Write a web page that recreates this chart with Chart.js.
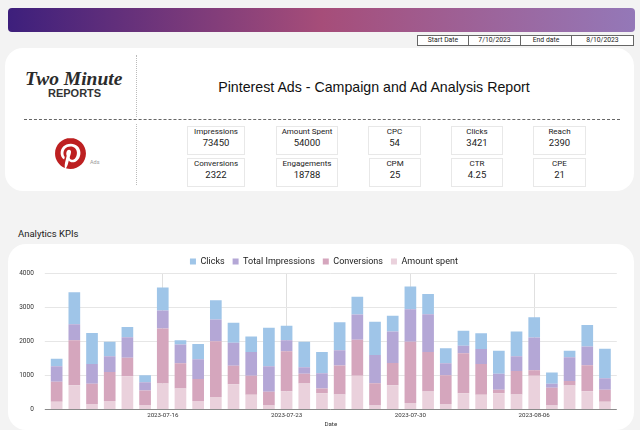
<!DOCTYPE html>
<html>
<head>
<meta charset="utf-8">
<script src="https://cdn.jsdelivr.net/npm/chart.js@4/dist/chart.umd.min.js"></script>
<style>
  html, body { margin: 0; padding: 0; }
  body { width: 640px; height: 430px; background: #f3f3f3; position: relative; overflow: hidden; font-family: Roboto, sans-serif; color: #222; }
  .abs { position: absolute; }
  #banner { left: 8px; top: 8px; width: 627px; height: 24px; border-radius: 4px; background: linear-gradient(90deg, #3d1f7c 0%, #a64d79 50%, #9478b8 100%); }
  #dates { left: 417px; top: 35px; width: 217px; height: 11px; display: flex; border: 1px solid #666; box-sizing: border-box; background: #fff; }
  #dates div { font-size: 6.8px; line-height: 9px; text-align: center; border-right: 1px solid #666; box-sizing: border-box; }
  #dates div:last-child { border-right: 0; }
  #card1 { left: 5px; top: 48px; width: 629px; height: 143px; background: #fff; border-radius: 18px; }
  #card2 { left: 8px; top: 244px; width: 626px; height: 186px; background: #fff; border-radius: 18px; }
  #vline1 { left: 136px; top: 55px; height: 62px; border-left: 1px dotted #bbb; }
  #vline2 { left: 136px; top: 124px; height: 61px; border-left: 1px dotted #bbb; }
  #hline { left: 24px; top: 119px; width: 596px; border-top: 1px dashed #666; }
  #title { left: 137px; width: 474px; top: 79px; text-align: center; font: 14.2px "Liberation Sans", sans-serif; color: #111; white-space: nowrap; }
  #logo1 { left: 25px; top: 68px; font: italic bold 19.5px "Liberation Serif", serif; color: #2b2b2b; white-space: nowrap; }
  #logo2 { left: 48px; top: 87px; font: bold 11px "Liberation Sans", sans-serif; color: #333; white-space: nowrap; }
  #ads { left: 90px; top: 159px; font-size: 5.5px; color: #999; }
  #pin { left: 55px; top: 138px; }
  .kpi { box-sizing: border-box; height: 29px; border: 1px solid #e8e8e8; text-align: center; background: #fff; }
  .kpi b { display: block; font-weight: 400; font-size: 8px; line-height: 10px; }
  .kpi i { display: block; font-style: normal; font-size: 9.5px; line-height: 11px; }
  #kpiTitle { left: 18px; top: 228px; font-size: 9.5px; }
  #chartBox { left: 0; top: 244px; width: 640px; height: 186px; }
  #chart { display: block; }
</style>
</head>
<body>
<div class="abs" id="banner"></div>
<div class="abs" id="dates">
  <div style="width:51px">Start Date</div><div style="width:52px">7/10/2023</div><div style="width:51px">End date</div><div style="width:61px">8/10/2023</div>
</div>
<div class="abs" id="card1"></div>
<div class="abs" id="card2"></div>
<div class="abs" id="vline1"></div>
<div class="abs" id="vline2"></div>
<div class="abs" id="hline"></div>
<div class="abs" id="logo1">Two Minute</div>
<div class="abs" id="logo2">REPORTS</div>
<div class="abs" id="title">Pinterest Ads - Campaign and Ad Analysis Report</div>
<svg class="abs" id="pin" width="31" height="31" viewBox="0 0 24 24"><circle cx="12" cy="12" r="11.5" fill="#fff"/><path fill="#bd2021" d="M12.017 0C5.396 0 .029 5.367.029 11.987c0 5.079 3.158 9.417 7.618 11.162-.105-.949-.199-2.403.041-3.439.219-.937 1.406-5.957 1.406-5.957s-.359-.72-.359-1.781c0-1.663.967-2.911 2.168-2.911 1.024 0 1.518.769 1.518 1.688 0 1.029-.653 2.567-.992 3.992-.285 1.193.6 2.165 1.775 2.165 2.128 0 3.768-2.245 3.768-5.487 0-2.861-2.063-4.869-5.008-4.869-3.41 0-5.409 2.562-5.409 5.199 0 1.033.394 2.143.889 2.741.099.12.112.225.085.345-.09.375-.293 1.199-.334 1.363-.053.225-.172.271-.401.165-1.495-.69-2.433-2.878-2.433-4.646 0-3.776 2.748-7.252 7.92-7.252 4.158 0 7.392 2.967 7.392 6.923 0 4.135-2.607 7.462-6.233 7.462-1.214 0-2.354-.629-2.758-1.379l-.749 2.848c-.269 1.045-1.004 2.352-1.498 3.146 1.123.345 2.306.535 3.55.535 6.607 0 11.985-5.365 11.985-11.987C23.97 5.39 18.592.026 11.985.026L12.017 0z"/></svg>
<div class="abs" id="ads">Ads</div>
<div id="kpis"></div>
<div class="abs" id="kpiTitle">Analytics KPIs</div>
<div class="abs" id="chartBox"><canvas id="chart" width="640" height="186"></canvas></div>

<script>
var dates = ['2023-07-10','2023-07-11','2023-07-12','2023-07-13','2023-07-14','2023-07-15','2023-07-16','2023-07-17',
  '2023-07-18','2023-07-19','2023-07-20','2023-07-21','2023-07-22','2023-07-23','2023-07-24','2023-07-25',
  '2023-07-26','2023-07-27','2023-07-28','2023-07-29','2023-07-30','2023-07-31','2023-08-01','2023-08-02',
  '2023-08-03','2023-08-04','2023-08-05','2023-08-06','2023-08-07','2023-08-08','2023-08-09','2023-08-10'];
var shownDates = ['2023-07-16','2023-07-23','2023-07-30','2023-08-06'];

var amountSpent = [215,700,150,235,965,120,750,605,235,350,730,420,105,525,750,460,430,975,105,700,175,515,145,460,420,460,430,975,105,690,525,215];
var conversions = [585,1320,590,855,545,425,1620,740,645,1640,540,555,400,1175,285,145,850,1065,655,655,1805,1165,850,1180,905,105,690,165,520,130,765,350];
var impressions = [460,470,580,460,600,245,530,555,580,645,680,705,755,320,195,450,450,740,830,925,955,1110,350,220,440,470,430,965,115,700,545,340];
var clicks = [220,945,915,430,300,205,670,120,450,565,585,455,1130,430,750,625,825,525,975,460,665,595,440,440,460,680,730,595,335,195,635,870];

var kpiNames = ['Impressions','Amount Spent','CPC','Clicks','Reach','Conversions','Engagements','CPM','CTR','CPE'];
var kpiValues = ['73450','54000','54','3421','2390','2322','18788','25','4.25','21'];
// left, width, top of each box
var kpiBoxes = [[187,58,126],[276,62,126],[368,53,126],[451,52,126],[533,53,126],[187,58,158],[276,62,158],[369,52,158],[451,52,158],[533,53,158]];

kpiNames.forEach(function(name, i) {
  var d = document.createElement('div');
  d.className = 'abs kpi';
  d.style.left = kpiBoxes[i][0] + 'px';
  d.style.width = kpiBoxes[i][1] + 'px';
  d.style.top = kpiBoxes[i][2] + 'px';
  d.innerHTML = '<b>' + name + '</b><i>' + kpiValues[i] + '</i>';
  document.getElementById('kpis').appendChild(d);
});

// horizontal grid runs a few px past the first and last bar,
// legend sits a bit right of the canvas middle
var gridPlugin = {
  id: 'gridPlugin',
  afterLayout: function(chart) {
    chart.legend.left += 17;
    chart.legend.right += 17;
    chart.legend.top += 3;
  },
  beforeDatasetsDraw: function(chart) {
    var ctx = chart.ctx, a = chart.chartArea, y = chart.scales.y;
    ctx.save();
    y.ticks.forEach(function(t) {
      var py = Math.round(y.getPixelForValue(t.value)) + 0.5;
      ctx.strokeStyle = t.value === 0 ? '#8a8a8a' : '#e6e6e6';
      ctx.lineWidth = 1;
      ctx.beginPath();
      ctx.moveTo(a.left - 3, py);
      ctx.lineTo(a.right + 3, py);
      ctx.stroke();
    });
    ctx.restore();
  }
};

function series(label, values, color) {
  return { label: label, data: values, backgroundColor: color, borderWidth: 0, barPercentage: 0.66, categoryPercentage: 1 };
}

new Chart(document.getElementById('chart'), {
  type: 'bar',
  data: {
    labels: dates,
    datasets: [
      series('Amount spent', amountSpent, '#ead1dc'),
      series('Conversions', conversions, '#d5a6bd'),
      series('Total Impressions', impressions, '#b4a7d6'),
      series('Clicks', clicks, '#9fc5e8')
    ]
  },
  options: {
    responsive: false,
    animation: false,
    layout: { padding: { left: 0, right: 26.2, top: 2, bottom: 0 } },
    plugins: {
      tooltip: { enabled: false },
      legend: {
        position: 'top',
        reverse: true,
        labels: { font: { family: 'Roboto', size: 9 }, color: '#222', boxWidth: 6, boxHeight: 6, padding: 8 }
      }
    },
    scales: {
      x: {
        stacked: true,
        afterFit: function(s) { s.height = 21; },
        grid: {
          offset: false,
          drawTicks: false,
          color: function(c) { return c.tick && shownDates.indexOf(dates[c.tick.value]) >= 0 ? '#e0e0e0' : 'rgba(0,0,0,0)'; }
        },
        border: { display: false },
        ticks: {
          autoSkip: false, maxRotation: 0, padding: 3,
          font: { family: 'Roboto', size: 6.2 }, color: '#333',
          callback: function(v) { var d = dates[v]; return shownDates.indexOf(d) >= 0 ? d : ''; }
        },
        title: { display: true, text: 'Date', font: { family: 'Roboto', size: 6.2 }, color: '#333', padding: { top: 0, bottom: 2 } }
      },
      y: {
        stacked: true,
        min: 0, max: 4000,
        afterFit: function(s) { s.width = 47.8; },
        grid: { display: false },
        border: { display: false },
        ticks: { stepSize: 1000, padding: 6, font: { family: 'Roboto', size: 6.5 }, color: '#333', callback: function(v) { return String(v); } }
      }
    }
  },
  plugins: [gridPlugin]
});
</script>
</body>
</html>
